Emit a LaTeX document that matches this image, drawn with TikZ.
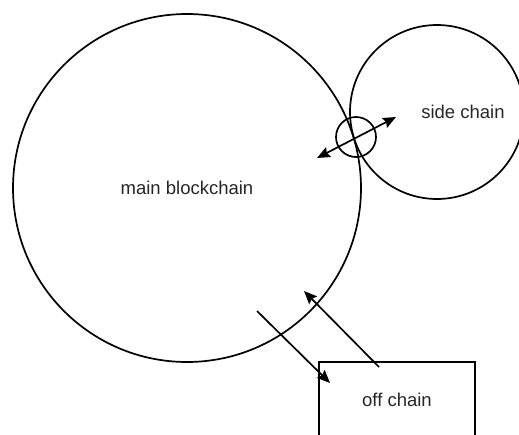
\documentclass[tikz,border=0pt]{standalone}
\usepackage{fontspec}
\setmainfont{Liberation Sans}
\usepackage{tikz}
\usetikzlibrary{arrows.meta}

\begin{document}
\begin{tikzpicture}[
  x=1pt, y=-1pt,
  chain/.style={draw, circle, line width=1.7pt, inner sep=0pt},
  chaintext/.style={font=\fontsize{18.5}{22}\selectfont, text=black!85},
  arrow/.style={-{Stealth[length=13pt, width=11pt, inset=2pt]}, line width=1.7pt},
  dblarrow/.style={{Stealth[length=13pt, width=11pt, inset=2pt]}-{Stealth[length=13pt, width=11pt, inset=2pt]}, line width=1.7pt}
]
  \useasboundingbox (0,0) rectangle (519,434);

  \node[chain, minimum size=348pt, chaintext] (main) at (187,188) {main blockchain};
  \node[chain, minimum size=174pt] (side) at (437,112) {};
  \node[chaintext] (sidetext) at (463,112) {side chain};
  \node[chain, minimum size=40pt] (peg) at (356,137) {};
  \node[draw, line width=1.7pt, minimum width=156pt, minimum height=76pt, chaintext] (off) at (397,400) {off chain};

  \coordinate (pegin)  at (317,158);
  \coordinate (pegout) at (396,117);
  \coordinate (outsrc) at (257,311);
  \coordinate (outdst) at (330,383);
  \coordinate (insrc)  at (379,367);
  \coordinate (indst)  at (304,291);

  \draw[dblarrow] (pegin)  -- (pegout);
  \draw[arrow]    (outsrc) -- (outdst);
  \draw[arrow]    (insrc)  -- (indst);
\end{tikzpicture}
\end{document}
